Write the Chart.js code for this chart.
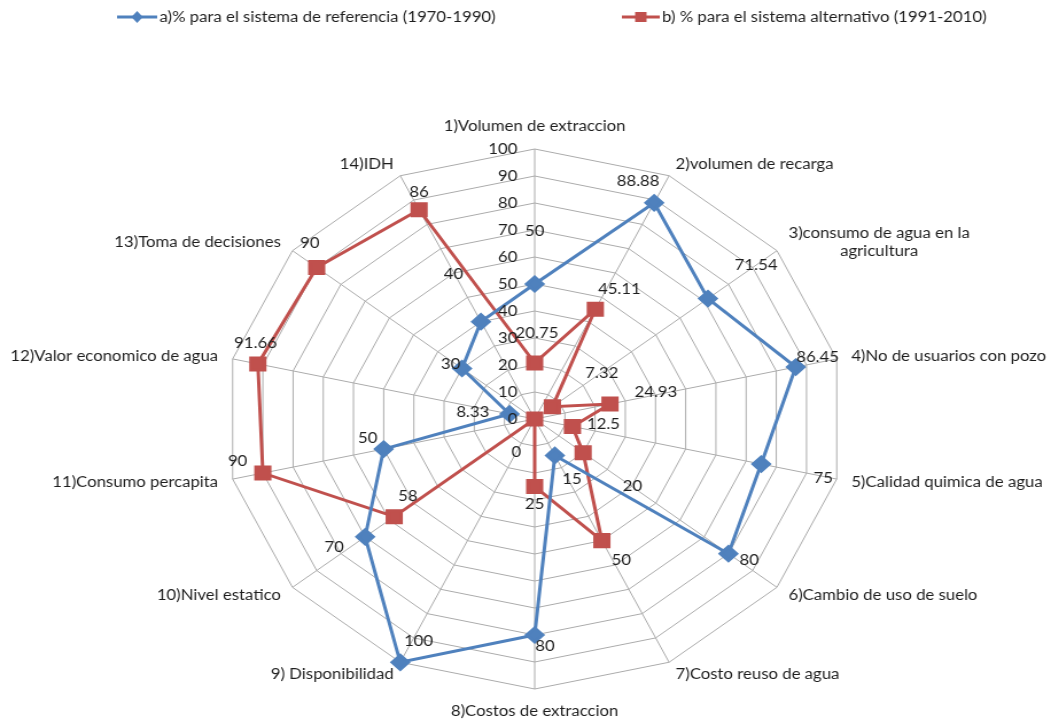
<!DOCTYPE html>
<html>
<head>
<meta charset="utf-8">
<script src="https://cdn.jsdelivr.net/npm/chart.js@4.4.0/dist/chart.umd.min.js"></script>
<style>
html, body { margin: 0; padding: 0; background: #fff; overflow: hidden; }
</style>
</head>
<body>
<canvas id="radar" width="916" height="721" style="width:1051px;height:721px;display:block"></canvas>
<script>
const categories = [
    '1)Volumen de extraccion', '2)volumen de recarga', ['3)consumo de agua en la', 'agricultura'],
    '4)No de usuarios con pozo', '5)Calidad quimica de agua', '6)Cambio de uso de suelo',
    '7)Costo reuso de agua', '8)Costos de extraccion', '9) Disponibilidad', '10)Nivel estatico',
    '11)Consumo percapita', '12)Valor economico de agua', '13)Toma de decisiones', '14)IDH'
];
const seriesNames = ['a)% para el sistema de referencia (1970-1990)', 'b) % para el sistema alternativo (1991-2010)'];
const seriesA = [50, 88.88, 71.54, 86.45, 75, 80, 15, 80, 100, 70, 50, 8.33, 30, 40];
const seriesB = [20.75, 45.11, 7.32, 24.93, 12.5, 20, 50, 25, 0, 58, 90, 91.66, 90, 86];
const tickValues = [0, 10, 20, 30, 40, 50, 60, 70, 80, 90, 100];

// where each value label sits, relative to its point (px)
const labelShiftA = [[0,-53],[-14,-22],[42,-33],[19,-10],[54,14],[18,7],[15,24],[9,11],[16,-21],[-27,10],[-14,-11],[-32,-2],[-10,-4],[-24,-47]];
const labelShiftB = [[2,-30],[21,-20],[43,-33],[40,-12],[27,-2],[43,34],[17,20],[0,18],[-16,33],[12,-20],[-22,-12],[-2,-21],[-6,-24],[0,-18]];

const BLUE = '#4F81BD', RED = '#C0504D', TEXT = '#1e1e1e', GRID = '#ABABAB';
const FONT = '14.6px Lato';

const overlay = {
    id: 'overlay',
    afterDatasetsDraw(chart) {
        const ctx = chart.ctx, r = chart.scales.r;
        ctx.save();
        ctx.font = FONT;
        ctx.fillStyle = TEXT;

        // scale numbers, left of the first axis
        ctx.textAlign = 'right';
        ctx.textBaseline = 'middle';
        tickValues.forEach(v => {
            const p = r.getPointPosition(0, r.getDistanceFromCenterForValue(v));
            ctx.fillText(String(v), p.x - 15, p.y);
        });

        // category labels
        categories.forEach((lab, i) => {
            const a = r.getIndexAngle(i);
            const p = r.getPointPosition(i, r.drawingArea + 13);
            const s = Math.sin(a), c = Math.cos(a);
            const lines = [].concat(lab);
            const w = Math.max(...lines.map(t => ctx.measureText(t).width));
            let cx = p.x;
            if (s > 0.01) cx = p.x + w / 2;
            else if (s < -0.01) cx = p.x - w / 2;
            let y = p.y - (lines.length - 1) * 9;
            if (Math.abs(s) < 0.01) y += c > 0 ? -10 : 9;
            ctx.textAlign = 'center';
            lines.forEach((t, k) => ctx.fillText(t, cx, y + k * 18));
        });

        // value labels
        ctx.textAlign = 'center';
        [[seriesA, labelShiftA], [seriesB, labelShiftB]].forEach(([vals, shift], d) => {
            chart.getDatasetMeta(d).data.forEach((pt, i) => {
                ctx.fillText(String(vals[i]), pt.x + shift[i][0], pt.y + shift[i][1]);
            });
        });

        // legend
        const items = [[BLUE, 'diamond', 102, 137], [RED, 'square', 542, 575]];
        items.forEach(([col, shape, x0, x1], k) => {
            const y = 17, mx = (x0 + x1) / 2;
            ctx.strokeStyle = col;
            ctx.lineWidth = 3;
            ctx.beginPath(); ctx.moveTo(x0, y); ctx.lineTo(x1, y); ctx.stroke();
            ctx.fillStyle = col;
            ctx.beginPath();
            if (shape === 'diamond') {
                ctx.moveTo(mx, y - 6); ctx.lineTo(mx + 5, y); ctx.lineTo(mx, y + 6); ctx.lineTo(mx - 5, y);
            } else {
                ctx.rect(mx - 5, y - 5, 10, 10);
            }
            ctx.fill();
            ctx.fillStyle = TEXT;
            ctx.textAlign = 'left';
            ctx.fillText(seriesNames[k], x1 + 2, y);
        });
        ctx.restore();
    }
};

new Chart(document.getElementById('radar'), {
    type: 'radar',
    data: {
        labels: categories,
        datasets: [{
            label: seriesNames[0],
            data: seriesA,
            borderColor: BLUE,
            backgroundColor: BLUE,
            pointBackgroundColor: BLUE,
            pointBorderColor: BLUE,
            pointStyle: 'rectRot',
            pointRadius: 7,
            borderWidth: 3,
            fill: false
        }, {
            label: seriesNames[1],
            data: seriesB,
            borderColor: RED,
            backgroundColor: RED,
            pointBackgroundColor: RED,
            pointBorderColor: RED,
            pointStyle: 'rect',
            pointRadius: 8.5,
            borderWidth: 3,
            fill: false
        }]
    },
    options: {
        responsive: false,
        animation: false,
        layout: { padding: { left: 16, right: 0, top: 149, bottom: 32 } },
        plugins: { legend: { display: false }, tooltip: { enabled: false } },
        scales: {
            r: {
                min: 0,
                max: 100,
                ticks: { display: false, stepSize: 10 },
                pointLabels: { display: false },
                grid: { color: GRID, lineWidth: 1 },
                angleLines: { color: GRID, lineWidth: 1 }
            }
        }
    },
    plugins: [overlay]
});
</script>
</body>
</html>
